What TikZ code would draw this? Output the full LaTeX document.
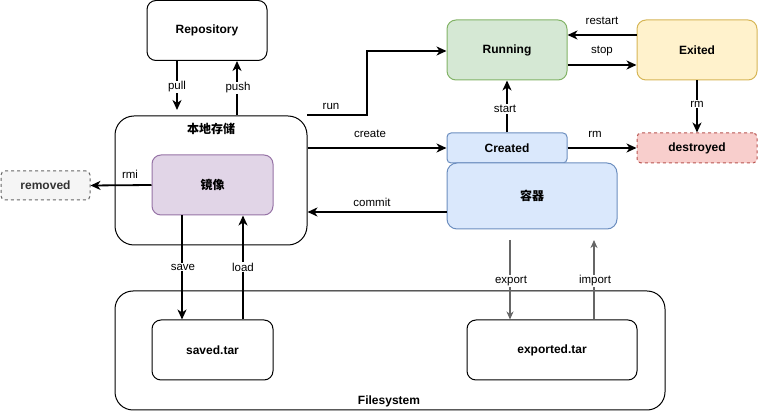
\documentclass[tikz,border=0pt]{standalone}
\usepackage{fontspec}
\setmainfont{Liberation Sans}
\newfontfamily\cjk{Noto Sans CJK SC}
\usetikzlibrary{arrows.meta}
\definecolor{grnF}{HTML}{D5E8D4}\definecolor{grnD}{HTML}{82B366}
\definecolor{ylwF}{HTML}{FFF2CC}\definecolor{ylwD}{HTML}{D6B656}
\definecolor{redF}{HTML}{F8CECC}\definecolor{redD}{HTML}{B85450}
\definecolor{bluF}{HTML}{DAE8FC}\definecolor{bluD}{HTML}{6C8EBF}
\definecolor{purF}{HTML}{E1D5E7}\definecolor{purD}{HTML}{9673A6}
\definecolor{gryF}{HTML}{F5F5F5}\definecolor{gryD}{HTML}{666666}
\definecolor{gryT}{HTML}{333333}
\tikzset{
  box/.style={draw=black, line width=1pt, fill=white, inner sep=0pt, font=\fontsize{12}{14}\selectfont\bfseries},
  lbl/.style={font=\fontsize{11.5}{13}\selectfont, inner sep=1pt},
  wlbl/.style={lbl, fill=white},
  arr/.style={line width=1.8pt, -{Stealth[length=10pt,width=9pt,inset=3pt]}},
  garr/.style={line width=1.4pt, draw=gryD, -{Stealth[length=8pt,width=7pt,inset=2.5pt]}},
}
\begin{document}
\begin{tikzpicture}[x=1pt,y=-1pt]
\useasboundingbox (0,0) rectangle (758,411);
% containers
\node[box, rounded corners=19pt, minimum width=192pt, minimum height=129pt] (local) at (211,180.5) {};
\node[font=\fontsize{12}{14}\selectfont\cjk\bfseries] (localt) at (211,129) {本地存储};
\node[box, rounded corners=18pt, minimum width=550pt, minimum height=119pt] (fs) at (390,350.5) {};
\node[font=\fontsize{12}{14}\selectfont\bfseries] (fst) at (389,401) {Filesystem};
% boxes
\node[box, rounded corners=9pt, minimum width=120pt, minimum height=60pt] (repo) at (207,30.5) {Repository};
\node[box, draw=purD, fill=purF, rounded corners=9pt, minimum width=121pt, minimum height=60pt, font=\fontsize{12}{14}\selectfont\cjk\bfseries] (img) at (212.5,185) {镜像};
\node[box, draw=gryD, fill=gryF, dashed, rounded corners=4pt, minimum width=89pt, minimum height=29pt, text=gryT] (removed) at (45.5,185.5) {removed};
\node[box, draw=grnD, fill=grnF, rounded corners=9pt, minimum width=120pt, minimum height=60pt] (run) at (507,50) {Running};
\node[box, draw=ylwD, fill=ylwF, rounded corners=9pt, minimum width=120pt, minimum height=60pt] (exit) at (697,50) {Exited};
\node[box, draw=redD, fill=redF, dashed, rounded corners=4pt, minimum width=120pt, minimum height=30pt] (destroyed) at (697,148) {destroyed};
\node[box, draw=bluD, fill=bluF, rounded corners=4pt, minimum width=120pt, minimum height=30pt] (created) at (507,148) {Created};
\node[box, draw=bluD, fill=bluF, rounded corners=10pt, minimum width=170pt, minimum height=66pt, font=\fontsize{12}{14}\selectfont\cjk\bfseries] (ctr) at (532,196) {容器};
\node[box, rounded corners=9pt, minimum width=121pt, minimum height=60pt] (saved) at (212.5,350) {saved.tar};
\node[box, rounded corners=9pt, minimum width=170pt, minimum height=60pt] (exported) at (552,350) {exported.tar};
% free ends
\coordinate (pullE) at (177,110);
\coordinate (pushS) at (237,115);
\coordinate (runS) at (307,115);
\coordinate (expS) at (510,240);
\coordinate (impE) at (594,240);
% connectors
\draw[arr] (repo.south -| pullE) -- (pullE);
\draw[arr] (pushS) -- (repo.south -| pushS);
\node[wlbl] (lpull) at (177,87) {pull};
\node[wlbl] (lpush) at (238,88) {push};
\draw[arr] (img.west) -- (removed.east);
\node[lbl] (lrmi) at (130,174) {rmi};
\draw[arr] (runS) -- (367,115) -- (367,51) -- (run.west |- 0,51);
\node[lbl] (lrun) at (331,106) {run};
\draw[arr] (local.east |- created.west) -- (created.west);
\node[lbl] (lcreate) at (370,134) {create};
\draw[arr] (ctr.west |- 0,212) -- (local.east |- 0,212);
\node[lbl] (lcommit) at (372,202) {commit};
\draw[arr] (created.north) -- (run.south);
\node[wlbl] (lstart) at (505,109) {start};
\draw[arr] (exit.west |- 0,35) -- (run.east |- 0,35);
\node[lbl] (lrestart) at (602,21) {restart};
\draw[arr] (run.east |- 0,65) -- (exit.west |- 0,65);
\node[lbl] (lstop) at (602,51) {stop};
\draw[arr] (exit.south) -- (destroyed.north);
\node[wlbl] (lrm1) at (697,104) {rm};
\draw[arr] (created.east) -- (destroyed.west);
\node[lbl] (lrm2) at (595,134) {rm};
\draw[arr] (img.south -| 182,0) -- (saved.north -| 182,0);
\draw[arr] (saved.north -| 243,0) -- (img.south -| 243,0);
\node[wlbl] (lsave) at (183,267) {save};
\node[wlbl] (lload) at (243,267) {load};
\draw[garr] (expS) -- (exported.north -| expS);
\draw[garr] (exported.north -| impE) -- (impE);
\node[wlbl] (lexport) at (511,281) {export};
\node[wlbl] (limport) at (595,281) {import};
\end{tikzpicture}
\end{document}
